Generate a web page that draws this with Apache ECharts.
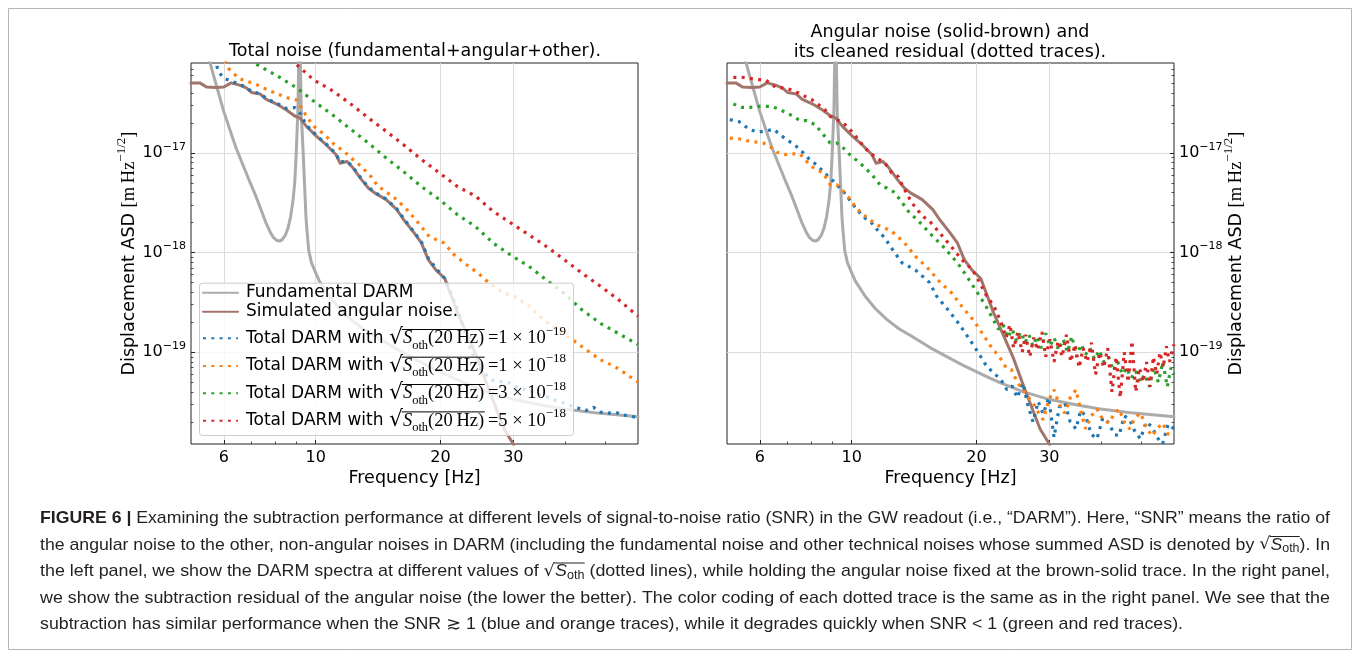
<!DOCTYPE html>
<html><head><meta charset="utf-8">
<script src="https://cdn.jsdelivr.net/npm/echarts@6/dist/echarts.min.js"></script>
<style>html,body{margin:0;padding:0;background:#fff}#c{width:1360px;height:658px}</style>
</head><body><div id="c"></div>
<script>
// ---------------- DATA (frequency [Hz], ASD [m/sqrt(Hz)]) ----------------
const freqTicks = [6, 10, 20, 30];
const freqMinorTicks = [7, 8, 9, 40, 50];
const asdTicks = [1e-19, 1e-18, 1e-17];
const asdMinorTicks = [2e-20,3e-20,4e-20,5e-20,6e-20,7e-20,8e-20,9e-20,
  2e-19,3e-19,4e-19,5e-19,6e-19,7e-19,8e-19,9e-19,
  2e-18,3e-18,4e-18,5e-18,6e-18,7e-18,8e-18,9e-18,
  2e-17,3e-17,4e-17,5e-17,6e-17,7e-17,8e-17];

const fundamentalDARM = [[5.40,1.6e-16],[5.53,8.66e-17],[5.75,4.86e-17],[6.0,2.6e-17],[6.42,1.13e-17],[6.9,5.39e-18],[7.15,3.8e-18],[7.38,2.69e-18],[7.6,1.95e-18],[7.76,1.62e-18],[7.9,1.42e-18],[8.07,1.32e-18],[8.2,1.31e-18],[8.3,1.35e-18],[8.45,1.5e-18],[8.58,1.78e-18],[8.7,2.3e-18],[8.82,3.39e-18],[8.9,5e-18],[8.96,8.6e-18],[9.06,2.7e-17],[9.1,8.7e-17],[9.14,4e-16],[9.18,8.7e-17],[9.23,2.5e-17],[9.32,1.08e-17],[9.48,2.15e-18],[9.62,1.05e-18],[9.77,7.9e-19],[10.2,5.2e-19],[10.78,3.65e-19],[11.4,2.75e-19],[12.15,2.14e-19],[13.0,1.72e-19],[13.96,1.45e-19],[15.42,1.12e-19],[17.0,9.0e-20],[18.81,7.2e-20],[20.8,5.9e-20],[22.94,4.9e-20],[26,4.0e-20],[30.1,3.35e-20],[35,2.95e-20],[39.8,2.7e-20],[48,2.45e-20],[60,2.25e-20]];

const angularNoise = [[5.0,5.05e-17],[5.25,5.05e-17],[5.45,4.6e-17],[5.75,4.55e-17],[6.0,4.6e-17],[6.25,5.05e-17],[6.55,4.8e-17],[6.8,4.5e-17],[7.0,4.05e-17],[7.35,3.9e-17],[7.6,3.45e-17],[8.05,3.1e-17],[8.5,2.7e-17],[8.9,2.35e-17],[9.15,2.25e-17],[9.5,1.85e-17],[10.05,1.47e-17],[10.6,1.21e-17],[11.2,9.6e-18],[11.45,7.9e-18],[11.9,8.2e-18],[12.3,7.1e-18],[12.9,5.4e-18],[13.4,4.45e-18],[13.9,3.95e-18],[14.8,3.4e-18],[15.7,2.7e-18],[16.3,2.15e-18],[17.3,1.57e-18],[18.0,1.25e-18],[18.7,8.5e-19],[19.5,6.7e-19],[20.5,5.5e-19],[22.0,2.5e-19],[24.5,9.0e-20],[26.2,4.2e-20],[28.5,1.7e-20],[30.0,1.2e-20],[30.4,1.0e-20]];

// Left panel: total DARM for four levels of other noise
const totalBlue = [[5.7,9e-17],[5.82,6.6e-17],[6.0,5.6e-17],[6.27,5.25e-17],[6.57,4.85e-17],[6.81,4.55e-17],[7.01,4.1e-17],[7.34,3.95e-17],[7.62,3.5e-17],[8.05,3.15e-17],[8.5,2.8e-17],[8.9,2.85e-17],[9.17,2.5e-17],[9.5,1.9e-17],[10.05,1.5e-17],[10.6,1.23e-17],[11.2,9.8e-18],[11.45,8.1e-18],[11.9,8.3e-18],[12.3,7.2e-18],[12.9,5.5e-18],[13.4,4.55e-18],[13.9,4.0e-18],[14.8,3.45e-18],[15.7,2.75e-18],[16.3,2.2e-18],[17.3,1.6e-18],[18.0,1.28e-18],[18.7,8.8e-19],[19.5,7.0e-19],[20.5,5.5e-19],[22.0,2.7e-19],[23.2,1.34e-19],[24.6,7.1e-20],[26.7,5.25e-20],[29.5,4.9e-20],[31.0,4.3e-20],[32.7,4.2e-20],[34.3,3.8e-20],[36.1,3.6e-20],[37.9,3.3e-20],[39.8,3.1e-20],[41.3,2.9e-20],[43.0,2.75e-20],[44.9,2.6e-20],[46.9,2.8e-20],[48.8,2.5e-20],[50.9,2.45e-20],[53.0,2.5e-20],[55.0,2.35e-20],[57.2,2.3e-20],[60,2.2e-20]];
const totalOrange = [[6.05,8.5e-17],[6.15,7.1e-17],[6.52,5.6e-17],[6.88,5.2e-17],[7.2,4.85e-17],[7.65,4.3e-17],[8.1,3.9e-17],[8.6,3.55e-17],[9.0,3.4e-17],[9.3,2.7e-17],[9.6,2.2e-17],[9.9,1.85e-17],[10.5,1.53e-17],[11.1,1.21e-17],[11.7,1.04e-17],[12.3,8.6e-18],[12.9,7.3e-18],[13.6,5.8e-18],[14.1,4.7e-18],[15.7,3.4e-18],[16.6,2.7e-18],[17.7,1.98e-18],[18.8,1.45e-18],[20.4,1.25e-18],[21.6,9.5e-19],[22.9,7.8e-19],[24.7,6.2e-19],[26.3,4.9e-19],[28.5,3.9e-19],[30.3,3.6e-19],[32.7,2.9e-19],[35.6,2.1e-19],[38.4,1.67e-19],[41.6,1.34e-19],[45.0,1.06e-19],[48.7,8.4e-20],[52.7,7.2e-20],[55.7,6.2e-20],[60,5.0e-20]];
const totalGreen = [[7.0,9e-17],[7.1,8e-17],[8.1,5.9e-17],[9.0,4.5e-17],[9.9,3.3e-17],[11.0,2.4e-17],[12.2,1.71e-17],[13.4,1.26e-17],[14.8,8.9e-18],[16.3,6.5e-18],[18.0,4.6e-18],[19.9,3.4e-18],[22.0,2.4e-18],[24.3,1.83e-18],[26.8,1.25e-18],[29.5,9.5e-19],[32.7,7.3e-19],[36.1,5.3e-19],[39.8,3.9e-19],[44.0,2.65e-19],[48.7,1.95e-19],[53.7,1.55e-19],[60,1.2e-19]];
const totalRed = [[8.8,9e-17],[8.9,8e-17],[9.9,5.4e-17],[11.0,4.2e-17],[12.2,3.06e-17],[13.4,2.25e-17],[14.8,1.65e-17],[16.3,1.21e-17],[18.0,8.6e-18],[19.9,6.3e-18],[22.0,4.6e-18],[24.3,3.7e-18],[26.8,2.6e-18],[29.5,2.0e-18],[32.7,1.51e-18],[36.1,1.15e-18],[39.8,8.5e-19],[44.0,6.2e-19],[48.7,4.6e-19],[53.7,3.4e-19],[60,2.3e-19]];

// Right panel: cleaned residuals
const residualBlue = [[5.08,2.16e-17],[5.33,2.08e-17],[5.68,1.71e-17],[5.95,1.62e-17],[6.24,1.67e-17],[6.49,1.73e-17],[6.71,1.53e-17],[6.97,1.36e-17],[7.23,1.23e-17],[7.44,1.12e-17],[7.72,9.6e-18],[7.93,8.5e-18],[8.23,7.6e-18],[8.54,6.5e-18],[8.78,5.8e-18],[9.04,5.2e-18],[9.29,4.6e-18],[9.55,4.1e-18],[9.82,3.5e-18],[10.1,3.0e-18],[10.38,2.6e-18],[10.77,2.22e-18],[11.18,1.98e-18],[11.6,1.64e-18],[12.04,1.4e-18],[12.38,1.16e-18],[13.23,7.9e-19],[14.25,6.7e-19],[15.42,5.0e-19],[16.04,3.65e-19],[17.04,2.7e-19],[18.08,1.97e-19],[18.81,1.56e-19],[19.97,1.07e-19],[21.19,7.2e-20],[22.94,5.3e-20],[23.7,4.2e-20],[24.4,4.6e-20],[25.1,3.5e-20],[25.9,4.9e-20],[26.6,3.0e-20],[27.4,2.0e-20],[28.2,3.2e-20],[29.0,2.4e-20],[29.9,3.5e-20],[30.8,1.4e-20],[31.7,2.8e-20],[32.7,3.1e-20],[33.7,2.0e-20],[34.8,1.7e-20],[35.7,2.6e-20],[36.7,2.3e-20],[37.9,1.5e-20],[39.1,1.35e-20],[40.4,2.2e-20],[41.8,1.95e-20],[43.0,1.5e-20],[44.2,1.45e-20],[45.5,2.3e-20],[46.9,2.1e-20],[48.3,1.6e-20],[49.8,1.35e-20],[51.4,2.0e-20],[53.0,1.8e-20],[54.6,1.4e-20],[56.3,1.2e-20],[58.1,1.9e-20],[60,1.7e-20]];
const residualOrange = [[5.08,1.41e-17],[5.33,1.39e-17],[5.58,1.33e-17],[5.84,1.29e-17],[6.12,1.26e-17],[6.35,1.16e-17],[6.59,1.02e-17],[6.84,9.6e-18],[7.17,9.8e-18],[7.5,9.8e-18],[7.72,8.6e-18],[7.93,7.5e-18],[8.23,6.8e-18],[8.54,6.3e-18],[8.87,4.8e-18],[9.2,4.8e-18],[9.55,4.1e-18],[9.88,3.5e-18],[10.25,2.8e-18],[10.67,2.4e-18],[11.07,2.14e-18],[11.49,1.9e-18],[12.04,1.76e-18],[12.49,1.64e-18],[13.42,1.25e-18],[14.25,9.2e-19],[15.42,6.7e-19],[16.37,5.0e-19],[17.37,4.0e-19],[18.44,2.9e-19],[19.58,2.14e-19],[20.37,1.7e-19],[21.62,1.16e-19],[22.94,8.5e-20],[23.6,7.0e-20],[24.3,6.7e-20],[25.1,5.0e-20],[25.9,4.2e-20],[26.6,3.6e-20],[27.4,3.1e-20],[28.2,2.5e-20],[29.0,2.1e-20],[29.9,3.3e-20],[30.8,4.2e-20],[31.7,3.0e-20],[32.7,2.45e-20],[33.7,3.5e-20],[34.8,4.2e-20],[35.7,2.6e-20],[36.7,1.7e-20],[37.9,2.3e-20],[39.1,2.7e-20],[40.4,2.1e-20],[41.8,1.95e-20],[43.0,2.4e-20],[44.2,2.7e-20],[45.5,2.0e-20],[46.9,1.7e-20],[48.3,2.2e-20],[49.8,2.45e-20],[51.4,1.8e-20],[53.0,1.44e-20],[54.6,1.7e-20],[56.3,1.95e-20],[58.1,1.5e-20],[60,1.6e-20]];
const residualGreen = [[5.18,3.1e-17],[5.43,2.87e-17],[5.68,2.87e-17],[5.95,2.94e-17],[6.18,2.94e-17],[6.41,2.94e-17],[6.71,2.72e-17],[6.97,2.52e-17],[7.23,2.33e-17],[7.5,2.11e-17],[7.79,2.11e-17],[8.16,1.93e-17],[8.54,1.53e-17],[8.87,1.26e-17],[9.2,1.26e-17],[9.55,1.12e-17],[10.0,9.2e-18],[10.38,8.2e-18],[10.77,7.1e-18],[11.18,6.1e-18],[11.71,4.8e-18],[12.15,4.45e-18],[12.6,4.1e-18],[13.09,3.4e-18],[13.7,2.6e-18],[14.8,1.9e-18],[15.4,1.58e-18],[16.6,1.16e-18],[18.0,7.9e-19],[18.7,6.3e-19],[19.9,4.26e-19],[21.1,2.9e-19],[22.0,2.1e-19],[22.6,1.7e-19],[23.2,1.9e-19],[23.8,1.4e-19],[24.4,1.7e-19],[25.0,1.3e-19],[25.6,1.6e-19],[26.2,1.25e-19],[26.8,1.5e-19],[27.4,1.15e-19],[28.0,1.45e-19],[28.7,1.1e-19],[29.4,1.55e-19],[30.1,1.15e-19],[30.8,1.4e-19],[31.6,1.05e-19],[32.4,1.35e-19],[33.2,1.0e-19],[34.0,1.45e-19],[34.9,9e-20],[35.8,1.2e-19],[36.7,9.5e-20],[37.6,1.1e-19],[38.6,8.5e-20],[39.6,1.05e-19],[40.6,8e-20],[41.7,9e-20],[42.8,6.5e-20],[43.9,8e-20],[45.0,6e-20],[46.1,7e-20],[47.3,5.5e-20],[48.5,6.5e-20],[49.7,5e-20],[51.0,6e-20],[52.3,4.5e-20],[53.6,7e-20],[55.0,5e-20],[56.4,8e-20],[57.8,4.5e-20],[59.0,7e-20],[60,6e-20]];
const residualRed = [[5.18,5.75e-17],[5.43,5.75e-17],[5.68,5.6e-17],[5.95,5.45e-17],[6.18,5.45e-17],[6.59,4.5e-17],[6.84,4.5e-17],[7.17,4.3e-17],[7.44,4.0e-17],[7.72,3.7e-17],[8.01,3.43e-17],[8.31,3.06e-17],[8.62,2.72e-17],[8.87,2.33e-17],[9.2,2.16e-17],[9.55,2.0e-17],[10.0,1.65e-17],[10.38,1.36e-17],[10.67,1.17e-17],[11.07,1.0e-17],[11.49,8.9e-18],[12.04,7.9e-18],[12.49,6.3e-18],[12.96,5.8e-18],[13.23,4.8e-18],[13.96,3.17e-18],[14.82,2.33e-18],[15.42,2.07e-18],[16.04,1.71e-18],[17.37,1.16e-18],[18.44,8.5e-19],[19.58,6.7e-19],[20.37,5.0e-19],[21.19,3.65e-19],[22.06,2.9e-19],[22.94,2.0e-19],[23.6,1.4e-19],[24.1,1.9e-19],[24.6,1.1e-19],[25.2,1.6e-19],[25.8,1.0e-19],[26.3,1.5e-19],[26.9,9e-20],[27.5,1.4e-19],[28.1,1.05e-19],[28.8,1.6e-19],[29.4,9e-20],[30.1,1.35e-19],[30.8,8e-20],[31.5,1.3e-19],[32.2,9e-20],[33.0,1.5e-19],[33.8,8e-20],[34.6,1.2e-19],[35.4,7e-20],[36.2,1.1e-19],[37.0,8e-20],[37.9,1.25e-19],[38.8,6e-20],[39.7,1.0e-19],[40.6,7e-20],[41.5,1.1e-19],[42.5,4e-20],[43.5,9e-20],[44.5,3.5e-20],[45.5,1.0e-19],[46.5,5e-20],[47.5,1.3e-19],[48.5,4e-20],[49.5,7e-20],[50.5,5e-20],[51.5,8e-20],[52.5,4.5e-20],[53.5,9e-20],[54.5,6e-20],[55.5,1.0e-19],[56.5,7e-20],[57.5,1.15e-19],[58.5,8e-20],[60,1.2e-19]];

const legendNames = ['Fundamental DARM', 'Simulated angular noise.',
  'Total DARM with sqrt(S_oth(20 Hz))=1e-19', 'Total DARM with sqrt(S_oth(20 Hz))=1e-18',
  'Total DARM with sqrt(S_oth(20 Hz))=3e-18', 'Total DARM with sqrt(S_oth(20 Hz))=5e-18'];
const otherMantissa = ['1', '1', '3', '5'];
const otherExponent = ['19', '18', '18', '18'];

const titleLeft = 'Total noise (fundamental+angular+other).';
const titleRight = 'Angular noise (solid-brown) and\nits cleaned residual (dotted traces).';
const xName = 'Frequency [Hz]';

// ---------------- helpers ----------------
const U = 1e20;   // plotted in units of 1e-20 m/sqrt(Hz)
const conv = d => d.map(p => [p[0], p[1] * U]);
const C = {gray:'#ababab', brown:'#a0756c', blue:'#1f77b4', orange:'#ff7f0e', green:'#2ca02c', red:'#d62728'};
const G = [{left:191, top:63, width:447, height:381}, {left:727, top:63, width:447, height:381}];
const MEAS = document.createElement('canvas').getContext('2d');
function tw(text, font) { MEAS.font = font; return MEAS.measureText(text).width; }
const SANS = '"DejaVu Sans", sans-serif';
const SERIF = '"Liberation Serif", "DejaVu Serif", serif';
const FS_LABEL = 17.5;

function xAxis(gi, minor) {
  return {
    type:'log', logBase:10, gridIndex:gi, min:5, max:60, position:'bottom',
    axisLine:{show:false},
    axisTick:{show:true, inside:true, length: minor ? 2.5 : 4, customValues: minor ? freqMinorTicks : freqTicks,
      lineStyle:{color:'#222', width: minor ? 0.8 : 1}},
    axisLabel: minor ? {show:false} : {show:true, customValues: freqTicks, formatter: v => String(Math.round(v)),
      fontFamily: SANS, fontSize:16, color:'#000', margin:6},
    splitLine: minor ? {show:false} : {show:true, lineStyle:{color:'#dcdcdc', width:1}},
    name: minor ? '' : xName, nameLocation:'middle', nameGap:25, nameMoveOverlap:false,
    nameTextStyle:{fontFamily:SANS, fontSize:FS_LABEL, color:'#000'}
  };
}
const tickRich = {
  b:{fontFamily:SANS, fontSize:16, color:'#000', lineHeight:22},
  s:{fontFamily:SANS, fontSize:11, color:'#000', lineHeight:22, padding:[0,0,12,0]}
};
const nameRich = {
  a:{fontFamily:SANS, fontSize:FS_LABEL, color:'#000', lineHeight:24},
  m:{fontFamily:SERIF, fontSize:18.5, color:'#000', lineHeight:24},
  s:{fontFamily:SERIF, fontSize:13, color:'#000', lineHeight:24, padding:[0,0,14,0]}
};
function yAxis(gi, minor, side) {
  return {
    type:'log', logBase:10, gridIndex:gi, position: side, min: 1.2e-20 * U, max: 8e-17 * U,
    axisLine:{show:false},
    axisTick:{show:true, inside:true, length: minor ? 2.5 : 4,
      customValues: (minor ? asdMinorTicks : asdTicks).map(v => v * U),
      lineStyle:{color:'#222', width: minor ? 0.8 : 1}},
    axisLabel: minor ? {show:false} : {show:true, customValues: asdTicks.map(v => v * U), margin:5,
      formatter: v => '{b|10}{s|\u2212' + (20 - Math.round(Math.log10(v))) + '}', rich: tickRich},
    splitLine: minor ? {show:false} : {show:true, lineStyle:{color:'#dcdcdc', width:1}},
    name: minor ? '' : '{a|Displacement ASD }{m|[m\u2009Hz}{s|\u22121/2}{m|]}',
    nameLocation:'middle', nameGap: 50, nameRotate:90, nameMoveOverlap:false,
    nameTextStyle:{rich: nameRich}
  };
}
function line(name, data, color, dotted, gi, z) {
  return {
    type:'line', name, data: conv(data), xAxisIndex: gi * 2, yAxisIndex: gi * 2,
    showSymbol:false, symbol:'none', animation:false, clip:true, z,
    lineStyle: dotted ? {color, width:3.2, type:[3, 5.3], cap:'butt'} : {color, width:3, cap:'round', join:'round'},
    itemStyle:{color, opacity:0}, emphasis:{disabled:true}
  };
}

// ---------------- legend (one legend row per entry, inside one shared box) ----------------
const LEG_BOX = {x:199, y:282.7, w:374, h:152.3};
const LEG_ROW_Y = [292.7, 311.7, 338.3, 366, 393.3, 420.7];   // row centres
const LEG_LEFT = 202, LEG_TXT_PAD = 3;
const F_T = 17, F_RAD = 22, F_M = 18.5, F_SUB = 12.5, F_SUP = 13, HF = 27.4;
const legendRich = {
  t:{fontFamily:SANS, fontSize:F_T, color:'#000', padding:[0,0,0,LEG_TXT_PAD]},
  ft:{fontFamily:SANS, fontSize:F_T, color:'#000', lineHeight:HF, padding:[0,0,0,LEG_TXT_PAD]},
  rad:{fontFamily:SANS, fontSize:F_RAD, color:'#000', lineHeight:HF},
  si:{fontFamily:SERIF, fontStyle:'italic', fontSize:F_M, color:'#000', lineHeight:HF},
  sub:{fontFamily:SERIF, fontSize:F_SUB, color:'#000', lineHeight:HF, verticalAlign:'bottom'},
  mr:{fontFamily:SERIF, fontSize:F_M, color:'#000', lineHeight:HF},
  sup:{fontFamily:SERIF, fontSize:F_SUP, color:'#000', lineHeight:HF, verticalAlign:'top'}
};
const RADICAND_END = '(20\u2009Hz)';
function legendFormatter(name) {
  const i = legendNames.indexOf(name);
  if (i < 2) return '{t|' + name + '}';
  const k = i - 2;
  return '{ft|Total DARM with }{rad|\u221A}{si|S}{sub|oth}{mr|' + RADICAND_END + '}{mr|\u2009=' + otherMantissa[k] +
    ' \u00D7 10}{sup|\u2212' + otherExponent[k] + '}';
}
function legends(tops) {
  return legendNames.map((n, i) => ({
    id:'lg' + i, left:LEG_LEFT, top:tops[i], orient:'vertical', itemWidth:35, itemHeight:14, itemGap:0,
    padding:0, selectedMode:false, backgroundColor:'transparent', borderWidth:0, z:20,
    itemStyle:{opacity:0}, data:[n], formatter: legendFormatter, textStyle:{rich: legendRich}
  }));
}
let legendTops = LEG_ROW_Y.map((c, i) => c - (i < 2 ? 8.5 : HF / 2));

const graphics = [];
graphics.push({type:'rect', z:15, silent:true,
  shape:{x:LEG_BOX.x + 0.5, y:LEG_BOX.y + 0.5, width:LEG_BOX.w, height:LEG_BOX.h, r:3},
  style:{fill:'rgba(255,255,255,0.8)', stroke:'#cccccc', lineWidth:1}});

// ---------------- caption ----------------
const CAP = {x:40, right:1330, font:'"Liberation Sans", Arial, sans-serif', size:17, color:'#231f20',
  ys:[518, 545, 571.5, 598, 624.5]};
const captionLines = [
  [['b','FIGURE 6 | '],['n','Examining the subtraction performance at different levels of signal-to-noise ratio (SNR) in the GW readout (i.e., \u201CDARM\u201D). Here, \u201CSNR\u201D means the ratio of']],
  [['n','the angular noise to the other, non-angular noises in DARM (including the fundamental noise and other technical noises whose summed ASD is denoted by '],['r','\u221A'],['si','S'],['sub','oth'],['n','). In']],
  [['n','the left panel, we show the DARM spectra at different values of '],['r','\u221A'],['si','S'],['sub','oth'],['n',' (dotted lines), while holding the angular noise fixed at the brown-solid trace. In the right panel,']],
  [['n','we show the subtraction residual of the angular noise (the lower the better). The color coding of each dotted trace is the same as in the right panel. We see that the']],
  [['n','subtraction has similar performance when the SNR '],['sym','\u2273'],['n',' 1 (blue and orange traces), while it degrades quickly when SNR < 1 (green and red traces).']]
];
const capRich = {
  b:{fontFamily:CAP.font, fontWeight:'bold', fontSize:CAP.size, fill:CAP.color},
  n:{fontFamily:CAP.font, fontSize:CAP.size, fill:CAP.color},
  r:{fontFamily:SANS, fontSize:CAP.size, fill:CAP.color},
  si:{fontFamily:CAP.font, fontStyle:'italic', fontSize:CAP.size, fill:CAP.color},
  sub:{fontFamily:CAP.font, fontSize:12, fill:CAP.color, padding:[8,0,0,0]},
  sym:{fontFamily:SANS, fontSize:CAP.size, fill:CAP.color}
};
function capFont(s) {
  const st = capRich[s];
  return (st.fontStyle || 'normal') + ' ' + (st.fontWeight || 'normal') + ' ' + st.fontSize + 'px ' + st.fontFamily;
}
(function () {
  const widths = captionLines.map(l => l.reduce((a, seg) => a + tw(seg[1], capFont(seg[0])), 0));
  const scales = widths.map(w => (CAP.right - CAP.x) / w);
  const avg = (scales[0] + scales[1] + scales[2] + scales[3]) / 4;
  captionLines.forEach((l, i) => {
    const sc = i === 4 ? avg : scales[i];
    graphics.push({type:'text', x:CAP.x, y:CAP.ys[i], scaleX:sc, z:50, silent:true,
      style:{text: l.map(seg => '{' + seg[0] + '|' + seg[1] + '}').join(''), rich: capRich,
        fill:CAP.color, verticalAlign:'middle', align:'left'}});
    let acc = 0;
    l.forEach(seg => {
      const w = tw(seg[1], capFont(seg[0]));
      if (seg[0] === 'r') {
        const wr = tw('S', capFont('si')) + tw('oth', capFont('sub'));
        const x0 = CAP.x + (acc + w - 0.8) * sc;
        graphics.push({type:'line', z:50, silent:true,
          shape:{x1:x0, y1:CAP.ys[i] - 8.5, x2:x0 + (wr + 1) * sc, y2:CAP.ys[i] - 8.5},
          style:{stroke:CAP.color, lineWidth:1}});
      }
      acc += w;
    });
  });
})();
graphics.push({type:'rect', z:0, silent:true, shape:{x:8.5, y:8.5, width:1343, height:641},
  style:{fill:null, stroke:'#b5b5b5', lineWidth:1}});

// ---------------- chart ----------------
const chart = echarts.init(document.getElementById('c'), null, {renderer:'canvas'});
chart.setOption({
  backgroundColor:'#fff',
  animation:false,
  textStyle:{fontFamily:SANS},
  title:[
    {text:titleLeft, left:415, top:42, textAlign:'center', padding:0,
      textStyle:{fontFamily:SANS, fontSize:FS_LABEL, fontWeight:'normal', color:'#000'}},
    {text:titleRight, left:950, top:23, textAlign:'center', padding:0,
      textStyle:{fontFamily:SANS, fontSize:FS_LABEL, fontWeight:'normal', color:'#000', lineHeight:19.5}}
  ],
  grid: G.map(g => Object.assign({show:true, borderColor:'#222', borderWidth:1, backgroundColor:'transparent', containLabel:false}, g)),
  xAxis:[xAxis(0, false), xAxis(0, true), xAxis(1, false), xAxis(1, true)],
  yAxis:[yAxis(0, false, 'left'), yAxis(0, true, 'left'), yAxis(1, false, 'right'), yAxis(1, true, 'right')],
  legend: legends(legendTops),
  graphic: graphics,
  series:[
    line(legendNames[0], fundamentalDARM, C.gray, false, 0, 2),
    line(legendNames[1], angularNoise, C.brown, false, 0, 3),
    line(legendNames[2], totalBlue, C.blue, true, 0, 4),
    line(legendNames[3], totalOrange, C.orange, true, 0, 5),
    line(legendNames[4], totalGreen, C.green, true, 0, 6),
    line(legendNames[5], totalRed, C.red, true, 0, 7),
    line(legendNames[0], fundamentalDARM, C.gray, false, 1, 2),
    line(legendNames[1], angularNoise, C.brown, false, 1, 3),
    line(legendNames[2], residualBlue, C.blue, true, 1, 4),
    line(legendNames[3], residualOrange, C.orange, true, 1, 5),
    line(legendNames[4], residualGreen, C.green, true, 1, 6),
    line(legendNames[5], residualRed, C.red, true, 1, 7)
  ]
});

// ---- layout pass: align legend rows to their target centres, then add the radical vinculum ----
function textSpans() {
  const list = chart.getZr().storage.getDisplayList(true);
  return list.filter(el => el.style && typeof el.style.text === 'string');
}
function rectOf(el) { const r = el.getBoundingRect().clone(); if (el.transform) r.applyTransform(el.transform); return r; }
try {
  let spans = textSpans();
  const rowSpans = [
    spans.filter(el => el.style.text === legendNames[0]),
    spans.filter(el => el.style.text === legendNames[1])
  ];
  const totals = spans.filter(el => el.style.text === 'Total DARM with ').map(rectOf).sort((a, b) => a.y - b.y);
  const centres = [];
  rowSpans.forEach(arr => { if (arr.length) { const r = rectOf(arr[0]); centres.push(r.y + r.height / 2); } else centres.push(null); });
  totals.forEach(r => centres.push(r.y + r.height / 2));
  if (centres.length === 6 && centres.every(v => v != null)) {
    legendTops = legendTops.map((t, i) => t + (LEG_ROW_Y[i] - centres[i]));
    chart.setOption({legend: legends(legendTops)});
  }
  spans = textSpans();
  const rads = spans.filter(el => el.style.text === '\u221A' && String(el.style.font || '').indexOf(F_RAD + 'px') >= 0);
  const ends = spans.filter(el => el.style.text === RADICAND_END).map(rectOf);
  const extra = [];
  rads.forEach(el => {
    const rr = rectOf(el);
    const cyR = rr.y + rr.height / 2;
    let best = null, bd = 1e9;
    ends.forEach(er => { const d = Math.abs(er.y + er.height / 2 - cyR); if (d < bd) { bd = d; best = er; } });
    if (!best) return;
    const cy = best.y + best.height / 2;
    extra.push({type:'line', z:100, silent:true,
      shape:{x1: rr.x + rr.width - 1.2, y1: cy - 8.8, x2: best.x + best.width + 0.5, y2: cy - 8.8},
      style:{stroke:'#000', lineWidth:1}});
  });
  if (extra.length) chart.setOption({graphic: graphics.concat(extra)});
} catch (e) { console.error(e); }
</script></body></html>
